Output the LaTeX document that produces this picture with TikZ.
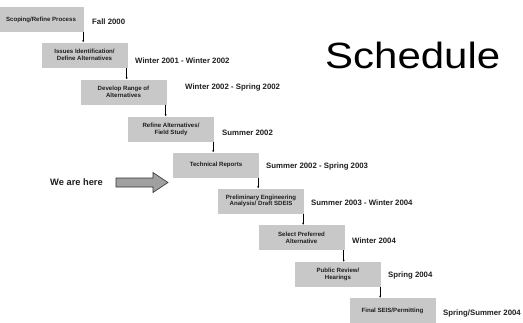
\documentclass[tikz,border=0pt]{standalone}
\usepackage{fontspec}
\setmainfont{Liberation Sans}
\usetikzlibrary{arrows.meta,calc}
\definecolor{boxgray}{RGB}{200,200,200}
\definecolor{arrowgray}{RGB}{160,160,160}
\definecolor{txtdark}{RGB}{30,30,30}
\tikzset{
  stepbox/.style={fill=boxgray, draw=none, minimum width=86pt, minimum height=25pt, inner sep=0pt,
    align=center, text=txtdark, font=\bfseries\fontsize{6.1}{7}\selectfont},
  datelabel/.style={anchor=west, inner sep=0pt, text=txtdark, font=\bfseries\fontsize{7.8}{9}\selectfont},
  conn/.style={draw=black, line width=0.7pt, -{Latex[length=2pt,width=2.2pt]}}
}
\begin{document}
\begin{tikzpicture}[x=1pt,y=-1pt]
\useasboundingbox (0,0) rectangle (523,322);
% boxes
\node[stepbox] (b1) at (41,19.5) {Scoping/Refine Process};
\node[stepbox] (b2) at (84.5,55) {Issues Identification/\\Define Alternatives};
\node[stepbox] (b3) at (123.5,92) {Develop Range of\\Alternatives};
\node[stepbox] (b4) at (171,129) {Refine Alternatives/\\Field Study};
\node[stepbox] (b5) at (216,165) {Technical Reports};
\node[stepbox, font=\bfseries\fontsize{6.1}{6.5}\selectfont] (b6) at (261,201) {Preliminary Engineering\\Analysis/ Draft SDEIS};
\node[stepbox] (b7) at (301.5,237.5) {Select Preferred\\Alternative};
\node[stepbox] (b8) at (338,274.5) {Public Review/\\Hearings};
\node[stepbox] (b9) at (392.5,310.5) {Final SEIS/Permitting};
% connectors
\foreach \u/\l in {b1/b2,b2/b3,b3/b4,b4/b5,b5/b6,b6/b7,b7/b8,b8/b9}{
  \draw[conn] ([xshift=-1pt]\u.south east) -- ([xshift=-1pt]\u.south east |- \l.north);
}
% dates
\node[datelabel] (d1) at (92,22) {Fall 2000};
\node[datelabel] (d2) at (135,60.5) {Winter 2001 - Winter 2002};
\node[datelabel] (d3) at (185,87) {Winter 2002 - Spring 2002};
\node[datelabel] (d4) at (222,133) {Summer 2002};
\node[datelabel] (d5) at (266,166) {Summer 2002 - Spring 2003};
\node[datelabel] (d6) at (311,203) {Summer 2003 - Winter 2004};
\node[datelabel] (d7) at (352,241) {Winter 2004};
\node[datelabel] (d8) at (388,275) {Spring 2004};
\node[datelabel] (d9) at (443,313) {Spring/Summer 2004};
% title
\node[anchor=base west, inner sep=0pt, font=\fontsize{36.5}{40}\selectfont] (title) at (325,68) {\scalebox{1.15}[1]{Schedule}};
% we are here
\node[anchor=east, inner sep=0pt, text=txtdark, font=\bfseries\fontsize{9.3}{10}\selectfont] (here) at (103,182.5) {We are here};
\draw[fill=arrowgray, draw=black!80, line width=0.6pt, line join=miter]
  (116,178) -- (153,178) -- (153,172.5) -- (168,182.5) -- (153,192.5) -- (153,187) -- (116,187) -- cycle;
\end{tikzpicture}
\end{document}
